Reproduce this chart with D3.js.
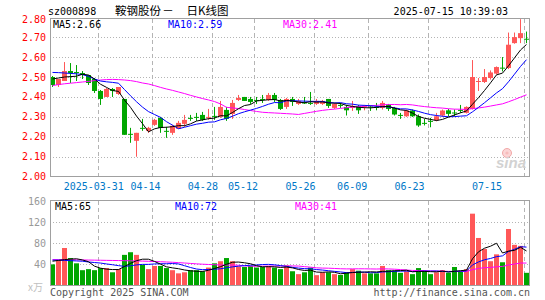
<!DOCTYPE html>
<html><head><meta charset="utf-8">
<script src="https://cdn.jsdelivr.net/npm/d3@7"></script>
<style>body{margin:0;background:#fff}svg{display:block}</style>
</head><body><svg id="c" width="545" height="300"></svg>
<script>
const dates = ["03-19","03-20","03-21","03-24","03-25","03-26","03-27","03-28","03-31","04-01",
"04-02","04-03","04-07","04-08","04-09","04-10","04-11","04-14","04-15","04-16",
"04-17","04-18","04-21","04-22","04-23","04-24","04-25","04-28","04-29","04-30",
"05-06","05-07","05-08","05-09","05-12","05-13","05-14","05-15","05-16","05-19",
"05-20","05-21","05-22","05-23","05-26","05-27","05-28","05-29","05-30","06-03",
"06-04","06-05","06-06","06-09","06-10","06-11","06-12","06-13","06-16","06-17",
"06-18","06-19","06-20","06-23","06-24","06-25","06-26","06-27","06-30","07-01",
"07-02","07-03","07-04","07-07","07-08","07-09","07-10","07-11","07-14","07-15"];
const open = [2.50,2.46,2.48,2.53,2.525,2.52,2.51,2.49,2.43,2.40,
2.44,2.415,2.39,2.215,2.18,2.245,2.23,2.26,2.295,2.23,
2.22,2.24,2.265,2.295,2.30,2.31,2.295,2.305,2.30,2.335,
2.315,2.385,2.40,2.39,2.385,2.39,2.385,2.41,2.385,2.35,
2.39,2.365,2.372,2.37,2.365,2.365,2.39,2.345,2.36,2.35,
2.345,2.353,2.35,2.352,2.35,2.345,2.362,2.345,2.31,2.303,
2.332,2.303,2.27,2.28,2.283,2.307,2.333,2.322,2.335,2.32,
2.34,2.475,2.475,2.495,2.517,2.547,2.545,2.67,2.695,2.692];
const high = [2.505,2.49,2.575,2.57,2.56,2.53,2.51,2.495,2.435,2.445,
2.445,2.45,2.39,2.245,2.22,2.29,2.25,2.29,2.30,2.25,
2.26,2.28,2.31,2.31,2.32,2.325,2.34,2.35,2.38,2.35,
2.385,2.41,2.40,2.40,2.40,2.41,2.42,2.42,2.39,2.395,
2.40,2.39,2.40,2.425,2.39,2.385,2.39,2.37,2.37,2.36,
2.38,2.36,2.36,2.357,2.37,2.38,2.365,2.35,2.32,2.337,
2.337,2.312,2.29,2.295,2.32,2.337,2.34,2.337,2.36,2.353,
2.585,2.495,2.54,2.533,2.553,2.60,2.723,2.723,2.79,2.728];
const low = [2.45,2.45,2.48,2.47,2.48,2.49,2.46,2.42,2.36,2.40,
2.40,2.41,2.21,2.17,2.10,2.23,2.22,2.255,2.22,2.195,
2.21,2.24,2.25,2.28,2.28,2.28,2.285,2.285,2.295,2.28,
2.29,2.38,2.38,2.365,2.365,2.37,2.38,2.375,2.335,2.34,
2.355,2.36,2.365,2.36,2.36,2.36,2.345,2.34,2.345,2.307,
2.33,2.315,2.333,2.33,2.333,2.337,2.33,2.307,2.29,2.30,
2.30,2.25,2.257,2.248,2.278,2.30,2.303,2.303,2.32,2.317,
2.337,2.43,2.47,2.487,2.512,2.528,2.54,2.667,2.67,2.67];
const close = [2.46,2.49,2.53,2.52,2.52,2.51,2.47,2.43,2.39,2.44,
2.43,2.45,2.21,2.21,2.22,2.24,2.245,2.285,2.245,2.225,
2.255,2.27,2.285,2.29,2.295,2.285,2.30,2.30,2.35,2.29,
2.37,2.395,2.38,2.375,2.38,2.385,2.41,2.385,2.34,2.39,
2.375,2.38,2.37,2.365,2.38,2.38,2.355,2.365,2.355,2.333,
2.355,2.333,2.355,2.35,2.347,2.37,2.34,2.312,2.307,2.332,
2.303,2.257,2.267,2.278,2.303,2.332,2.315,2.32,2.332,2.35,
2.50,2.48,2.50,2.523,2.55,2.545,2.662,2.70,2.72,2.69];
const volume = [40,48,71,52,42,29,31,29,33,33,
25,31,58,63,58,39,31,37,37,33,
29,23,25,29,29,27,34,42,46,52,
46,36,35,37,34,35,37,34,31,38,
27,21.5,25,34,19.6,25,25,21.5,20,25,
31,28,23,23,23,37,29,28,24,27,
21.5,33,28,21.5,25,29,24,35,27,31,
136,90,69,46,59,44,107,77,75,24];
const ma5Lead = [2.49,2.495,2.50,2.502];
const ma10Lead = [2.523,2.522,2.52,2.518,2.516,2.512,2.503,2.49,2.48];
const ma30Lead = [2.457,2.462,2.466,2.469,2.472,2.475,2.478,2.482,2.485,2.487,2.488,2.487,2.485,2.482,2.477,2.47,2.465,2.457,2.448,2.44,2.433,2.425,2.417,2.408,2.40,2.392,2.385,2.377,2.365];
const vma5Lead = [46,47.5,49,50];
const vma10Lead = [48,48,47.5,47,46.5,46,44.5,43.5,42.5];
const vma30Lead = [49,49,49,48.8,48.6,48.4,48.2,48,47.8,47.6,47.4,47.2,47,46.8,46.5,46.2,45.8,45.4,45,44.5,44,43.3,42.6,41.8,41,40.3,39.8,39.3,38.9];
const priceTicks = [2.00,2.10,2.20,2.30,2.40,2.50,2.60,2.70,2.80];
const volTicks = [40,80,120,160];
const xLabels = ["2025-03-31","04-14","04-28","05-12","05-26","06-09","06-23","07-15"];
const code = "sz000898", titleA = "鞍钢股份", titleDash = "－", titleB = "日K线图", stamp = "2025-07-15 10:39:03";
const priceMA = {ma5:"2.66", ma10:"2.59", ma30:"2.41"};
const volMA = {ma5:"65", ma10:"72", ma30:"41"};

const RED="#ff5858", GREEN="#00a600", MONO="DejaVu Sans Mono";
const svg = d3.select("#c");
const idx = d3.range(dates.length);
const x = d3.scaleBand().domain(idx).range([50,529]).paddingInner(1/6).paddingOuter(0).align(0);
const bw = x.bandwidth();
const cx = i => x(i) + bw/2;
const y = d3.scaleLinear().domain([2.0,2.8]).range([176.7,17.2]);
const yv = d3.scaleLinear().domain([0,160]).range([285.5,201]);
const up = i => close[i] >= open[i];
function ma(vals, n, lead){ return vals.map((v,i)=> i < n-1 ? lead[i] : d3.mean(vals.slice(i-n+1,i+1))); }

const P = {l:50, r:529, t:19, b:177}, V = {t:201, b:286};
const gridC = "#b4b4b4";
svg.append("g").selectAll("line").data(priceTicks.slice(1,-1)).join("line")
  .attr("x1",P.l).attr("x2",P.r).attr("y1",d=>Math.round(y(d))+0.5).attr("y2",d=>Math.round(y(d))+0.5)
  .attr("stroke",gridC).attr("stroke-dasharray","1,2");
svg.append("g").selectAll("line").data(volTicks.slice(0,-1)).join("line")
  .attr("x1",P.l).attr("x2",P.r).attr("y1",d=>Math.round(yv(d))+0.5).attr("y2",d=>Math.round(yv(d))+0.5)
  .attr("stroke",gridC).attr("stroke-dasharray","1,2");
const labIdx = xLabels.map(s => dates.indexOf(s.slice(-5)));
[[P.t,P.b],[V.t,V.b]].forEach(([t,b])=>{
  svg.append("g").selectAll("line").data(labIdx).join("line")
    .attr("x1",d=>x(d)+0.5).attr("x2",d=>x(d)+0.5).attr("y1",t).attr("y2",b)
    .attr("stroke",gridC).attr("stroke-dasharray","4,3");
});
const lg = svg.append("g");
lg.append("circle").attr("cx",507).attr("cy",153).attr("r",4.5).attr("fill","#fbd6d6").attr("stroke","#f2a8a8");
lg.append("circle").attr("cx",507).attr("cy",153).attr("r",1.6).attr("fill","#f7bcbc");
lg.append("text").attr("x",511).attr("y",168).attr("text-anchor","middle").attr("font-family","Liberation Sans")
  .attr("font-weight","bold").attr("font-style","italic").attr("font-size",15).attr("fill","#d2d2d2").text("sina");

const cg = svg.append("g");
idx.forEach(i=>{
  const c = up(i)?RED:GREEN;
  cg.append("line").attr("x1",cx(i)).attr("x2",cx(i)).attr("y1",y(high[i])).attr("y2",y(low[i])).attr("stroke",c);
  const y0 = y(Math.max(open[i],close[i])), y1 = y(Math.min(open[i],close[i]));
  cg.append("rect").attr("x",x(i)).attr("width",bw).attr("y",y0).attr("height",Math.max(1,y1-y0)).attr("fill",c);
});
svg.append("g").selectAll("rect").data(idx).join("rect")
  .attr("x",d=>x(d)).attr("width",bw).attr("y",d=>yv(volume[d])).attr("height",d=>yv(0)-yv(volume[d]))
  .attr("fill",d=>up(d)?RED:GREEN);

function drawLine(vals, sc, col){
  svg.append("path").datum(vals).attr("fill","none").attr("stroke",col).attr("stroke-width",1)
    .attr("d", d3.line().x((d,i)=>cx(i)).y(d=>sc(d)));
}
drawLine(ma(close,30,ma30Lead), y, "#ff00ff");
drawLine(ma(close,10,ma10Lead), y, "#0000ff");
drawLine(ma(close,5,ma5Lead), y, "#000");
drawLine(ma(volume,30,vma30Lead), yv, "#ff00ff");
drawLine(ma(volume,10,vma10Lead), yv, "#0000ff");
drawLine(ma(volume,5,vma5Lead), yv, "#000");

svg.append("rect").attr("x",P.l+0.5).attr("y",P.t-0.5).attr("width",P.r-P.l).attr("height",P.b-P.t).attr("fill","none").attr("stroke","#a0a0a0");
svg.append("rect").attr("x",P.l+0.5).attr("y",V.t-0.5).attr("width",P.r-P.l).attr("height",V.b-V.t).attr("fill","none").attr("stroke","#a0a0a0");

function txt(s,xx,yy,col,anchor){
  return svg.append("text").attr("x",xx).attr("y",yy).attr("fill",col).attr("font-family",MONO).attr("font-size",10)
    .attr("text-anchor",anchor||"start").text(s);
}
txt(code,48,15,"#000");
const cjk = (s,xx,anchor)=>svg.append("text").attr("x",xx).attr("y",15).attr("font-family","Noto Sans CJK SC")
  .attr("font-size",11.5).attr("fill","#000").attr("text-anchor",anchor||"start").text(s);
cjk(titleA,115);
cjk(titleDash,168,"middle");
cjk(titleB,186.5);
txt(stamp,508,15,"#000","end");
priceTicks.forEach(p=>{
  const yy = p===2.8 ? P.t : y(p);
  txt(p.toFixed(2),46,yy+3.5,"#ff0000","end");
});
volTicks.forEach(v=>txt(String(v),46,yv(v)+3.5,"#999","end"));
txt("x万",28,291,"#c0c0c0").attr("font-family","Noto Sans CJK SC");
txt("MA5:"+priceMA.ma5,53,27.5,"#000");
txt("MA10:"+priceMA.ma10,168,27.5,"#0000ff");
txt("MA30:"+priceMA.ma30,283,27.5,"#ff00ff");
txt("MA5:"+volMA.ma5,55,210,"#000");
txt("MA10:"+volMA.ma10,175,210,"#0000ff");
txt("MA30:"+volMA.ma30,295,210,"#ff00ff");
xLabels.forEach((s,k)=>{
  const w = s.length*6.02;
  let c = 0.957*x(labIdx[k]);
  if (c + w/2 > 502) c = 502 - w/2;
  txt(s,c,190,"#0078c8","middle");
});
txt("Copyright 2025 SINA.COM",50,296,"#555");
txt("http://finance.sina.com.cn",530,296,"#555","end");
</script></body></html>
